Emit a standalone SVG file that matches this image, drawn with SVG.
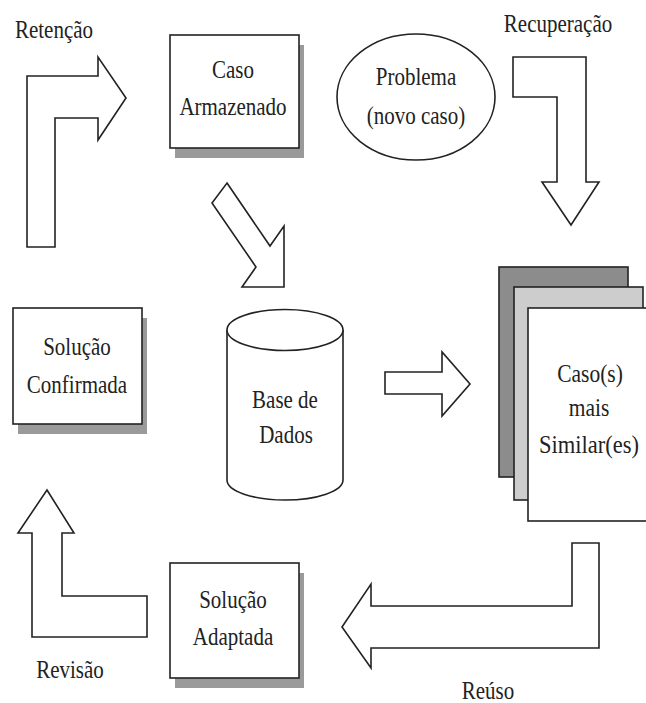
<svg xmlns="http://www.w3.org/2000/svg" width="646" height="703" viewBox="0 0 646 703">
<style>
text{font-family:"Liberation Serif","Times New Roman",serif;font-size:25px;fill:#222;text-anchor:middle}
.o{fill:#fff;stroke:#222;stroke-width:1.6;stroke-linejoin:miter}
.sh{fill:#9a9a9a}
</style>
<rect width="646" height="703" fill="#fff"/>
<g id="connectors">
<g id="retencao">
<polygon class="o" points="27,247 27,76 98,76 98,57 126,98 98,140 98,118 55,118 55,247"/>
<text transform="translate(54,38) scale(0.84,1)">Retenção</text>
</g>
<polygon id="to-base" class="o" points="227,183 270,246 284,226 284,287 242,287 256,267 212,203"/>
<g id="recuperacao">
<polygon class="o" points="513,57 586,57 586,182 599,182 571,225 542,182 557,182 557,97 513,97"/>
<text transform="translate(558,32) scale(0.84,1)">Recuperação</text>
</g>
<polygon id="to-similar" class="o" points="385,372 442,372 442,352 470,384 442,416 442,394 385,394"/>
<g id="reuso">
<polygon class="o" points="599,543 572,543 572,606 371,606 371,584 342,627 371,668 371,648 599,648"/>
<text transform="translate(488,699) scale(0.84,1)">Reúso</text>
</g>
<g id="revisao">
<polygon class="o" points="47,490 74,533 62,533 62,596 147,596 147,637 32,637 32,533 18,533"/>
<text transform="translate(70,678) scale(0.84,1)">Revisão</text>
</g>
</g>
<g id="caso-armazenado">
<rect class="sh" x="175" y="45" width="129" height="113"/>
<rect class="o" x="170" y="35" width="129" height="113"/>
<text transform="translate(233,78) scale(0.84,1)">Caso</text>
<text transform="translate(233,115) scale(0.84,1)">Armazenado</text>
</g>
<g id="problema">
<ellipse class="o" cx="416" cy="97" rx="79" ry="63"/>
<text transform="translate(416,85) scale(0.84,1)">Problema</text>
<text transform="translate(416,124) scale(0.84,1)">(novo caso)</text>
</g>
<g id="solucao-confirmada">
<rect class="sh" x="18" y="318" width="129" height="116"/>
<rect class="o" x="13" y="308" width="129" height="116"/>
<text transform="translate(77,355) scale(0.84,1)">Solução</text>
<text transform="translate(77,393) scale(0.84,1)">Confirmada</text>
</g>
<g id="base-de-dados">
<path class="o" d="M227,330 L227,480 A58,20 0 0 0 343,480 L343,330"/>
<ellipse class="o" cx="285" cy="330" rx="58" ry="20.5"/>
<text transform="translate(285,408) scale(0.84,1)">Base de</text>
<text transform="translate(286,443) scale(0.84,1)">Dados</text>
</g>
<g id="casos-similares">
<rect x="499" y="267" width="129" height="210" fill="#8c8c8c" stroke="#222" stroke-width="1.6"/>
<rect x="514" y="287" width="129" height="213" fill="#cdcdcd" stroke="#222" stroke-width="1.6"/>
<rect class="o" x="528" y="308" width="130" height="213"/>
<text transform="translate(590,382) scale(0.86,1)">Caso(s)</text>
<text transform="translate(589,416) scale(0.86,1)">mais</text>
<text transform="translate(589,453) scale(0.9,1)">Similar(es)</text>
</g>
<g id="solucao-adaptada">
<rect class="sh" x="175" y="573" width="129" height="115"/>
<rect class="o" x="170" y="563" width="129" height="115"/>
<text transform="translate(233,608) scale(0.84,1)">Solução</text>
<text transform="translate(233,645) scale(0.84,1)">Adaptada</text>
</g>
</svg>
